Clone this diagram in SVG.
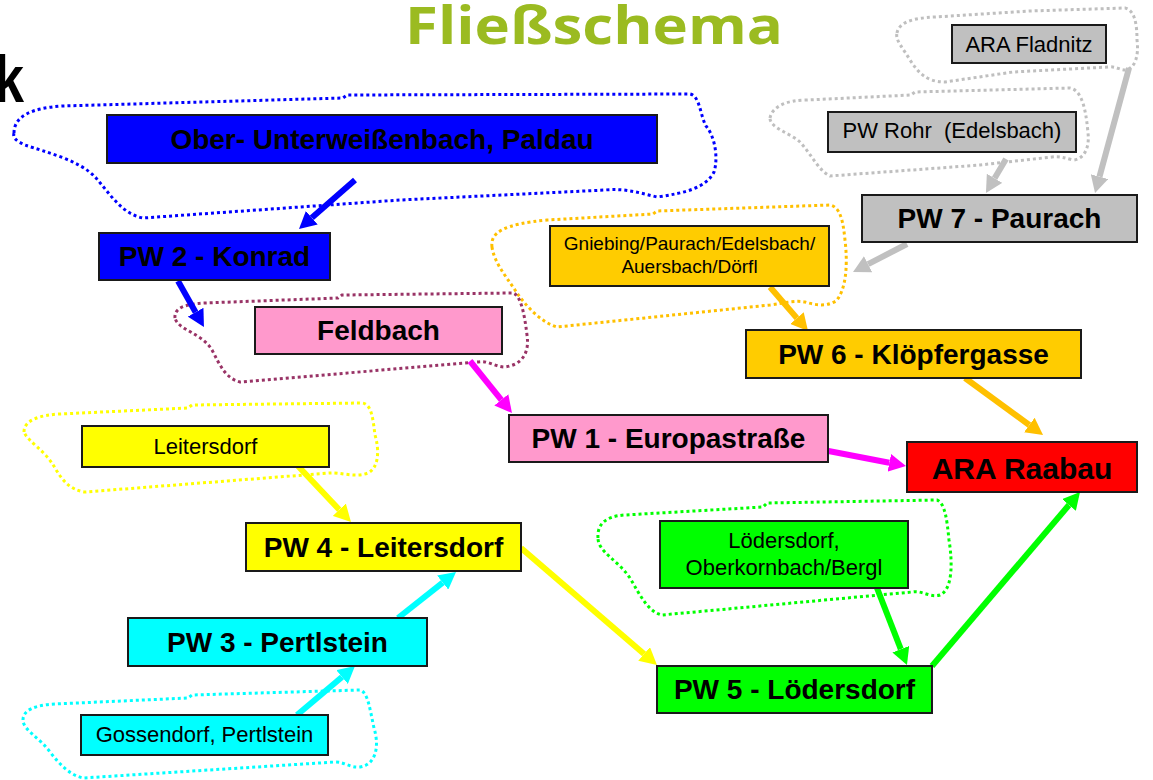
<svg xmlns="http://www.w3.org/2000/svg" width="1153" height="780" viewBox="0 0 1153 780">
<style>
.box{stroke:#1a1a1a;stroke-width:2}
.b{font-family:"Liberation Sans",Arial,sans-serif;font-weight:bold;font-size:28px;fill:#000;text-anchor:middle}
.r{font-family:"Liberation Sans",Arial,sans-serif;font-size:22px;fill:#000;text-anchor:middle}
.blob{fill:none;stroke-width:3;stroke-dasharray:3 3}
.arr{fill:none;stroke-width:6}
</style>
<defs>
<marker id="mBlue" markerUnits="userSpaceOnUse" markerWidth="17" markerHeight="18" viewBox="0 0 17 18" refX="0" refY="9" orient="auto"><path d="M0,0 L17,9 L0,18 z" fill="#0000FF"/></marker>
<marker id="mMag" markerUnits="userSpaceOnUse" markerWidth="17" markerHeight="18" viewBox="0 0 17 18" refX="0" refY="9" orient="auto"><path d="M0,0 L17,9 L0,18 z" fill="#FF00FF"/></marker>
<marker id="mGold" markerUnits="userSpaceOnUse" markerWidth="17" markerHeight="18" viewBox="0 0 17 18" refX="0" refY="9" orient="auto"><path d="M0,0 L17,9 L0,18 z" fill="#FFC000"/></marker>
<marker id="mGray" markerUnits="userSpaceOnUse" markerWidth="17" markerHeight="18" viewBox="0 0 17 18" refX="0" refY="9" orient="auto"><path d="M0,0 L17,9 L0,18 z" fill="#C0C0C0"/></marker>
<marker id="mYel" markerUnits="userSpaceOnUse" markerWidth="17" markerHeight="18" viewBox="0 0 17 18" refX="0" refY="9" orient="auto"><path d="M0,0 L17,9 L0,18 z" fill="#FFFF00"/></marker>
<marker id="mCyan" markerUnits="userSpaceOnUse" markerWidth="17" markerHeight="18" viewBox="0 0 17 18" refX="0" refY="9" orient="auto"><path d="M0,0 L17,9 L0,18 z" fill="#00FFFF"/></marker>
<marker id="mGreen" markerUnits="userSpaceOnUse" markerWidth="17" markerHeight="18" viewBox="0 0 17 18" refX="0" refY="9" orient="auto"><path d="M0,0 L17,9 L0,18 z" fill="#00FF00"/></marker>
</defs>
<rect width="1153" height="780" fill="#fff"/>

<text x="405" y="44" font-family="'Open Sans',Lato,sans-serif" font-weight="bold" font-size="52" fill="#9BBB21" textLength="378" lengthAdjust="spacingAndGlyphs">Fließschema</text>
<text x="-6" y="102" font-family="'Liberation Sans',Arial,sans-serif" font-weight="bold" font-size="66" fill="#000" textLength="30" lengthAdjust="spacingAndGlyphs">k</text>

<g id="groups">
<path class="blob" stroke="#0000FF" d="M14,133 C14,116 32,108 62,106 L343,98 L347,95 L690,94 C700,96 700,115 706,126 C716,138 718,160 714,172 C706,188 685,193 657,197 C640,193 625,188 605,190 L400,200 L143,218 C122,214 110,194 96,178 C80,160 45,152 25,145 C14,140 13,137 14,133 Z"/>
<path class="blob" stroke="#BFBFBF" d="M897,33 C899,22 913,18 935,17 L1030,11 L1125,8 C1135,10 1137,25 1137,40 C1139,56 1135,68 1126,70 C1119,70 1116,66 1108,67 L1013,72 L945,82 C926,82 918,72 910,60 C903,48 895,40 897,33 Z"/>
<path class="blob" stroke="#BFBFBF" d="M770,118 C772,107 786,100 807,100 L911,95 L915,92 L1070,88 C1082,90 1086,110 1088,133 C1090,150 1082,160 1073,160 C1065,158 1060,156 1052,157 L980,165 L830,176 C818,170 812,155 800,142 C790,133 770,128 770,118 Z"/>
<path class="blob" stroke="#FFC000" d="M492,247 C490,232 505,224 547,220 L653,214 L657,211 L830,205 C840,207 843,220 845,240 C848,265 846,290 836,301 C826,307 815,305 805,302 C795,300 785,303 770,305 L557,327 C540,322 525,305 515,290 C505,275 494,262 492,247 Z"/>
<path class="blob" stroke="#993366" d="M175,318 C174,308 185,304 205,303 L338,298 L342,295 L513,293 C520,295 524,310 527,335 C530,355 520,365 505,367 C495,367 488,360 478,362 L240,382 C225,378 220,365 212,350 C202,333 178,330 175,318 Z"/>
<path class="blob" stroke="#FFFF00" d="M24,432 C24,420 40,415 60,414 L188,408 L192,405 L362,403 C372,404 373,420 375,435 C380,452 378,468 368,473 C355,478 340,472 330,473 L85,492 C70,490 62,480 55,468 C45,450 28,442 24,432 Z"/>
<path class="blob" stroke="#00FF00" d="M598,538 C597,525 605,516 625,515 L763,507 L767,503 L937,500 C945,503 947,520 949,540 C953,565 952,590 940,595 C930,598 922,590 912,592 L662,615 C648,612 640,595 630,578 C618,560 598,552 598,538 Z"/>
<path class="blob" stroke="#00FFFF" d="M23,720 C23,710 35,705 55,704 L188,698 L192,695 L360,690 C368,692 370,710 374,728 C380,748 375,765 360,767 C350,768 345,762 335,762 L83,778 C70,775 60,765 50,752 C40,738 23,730 23,720 Z"/>
</g>

<g id="connectors">
<line class="arr" stroke="#0000FF" x1="355" y1="180" x2="311.8" y2="217.8" marker-end="url(#mBlue)"/>
<line class="arr" stroke="#0000FF" x1="178" y1="281" x2="195.6" y2="312.2" marker-end="url(#mBlue)"/>
<line class="arr" stroke="#FF00FF" x1="470" y1="361" x2="501.3" y2="399.8" marker-end="url(#mMag)"/>
<line class="arr" stroke="#FF00FF" x1="813" y1="448" x2="889.3" y2="462.8" marker-end="url(#mMag)"/>
<line class="arr" stroke="#FFC000" x1="770" y1="287" x2="796.9" y2="318.1" marker-end="url(#mGold)"/>
<line class="arr" stroke="#FFC000" x1="965" y1="378" x2="1029.3" y2="425" marker-end="url(#mGold)"/>
<line class="arr" stroke="#C0C0C0" x1="1006" y1="159" x2="994.6" y2="178.3" marker-end="url(#mGray)"/>
<line class="arr" stroke="#C0C0C0" x1="1129" y1="68" x2="1099.5" y2="176.6" marker-end="url(#mGray)"/>
<line class="arr" stroke="#C0C0C0" x1="907" y1="244" x2="868.1" y2="264.2" marker-end="url(#mGray)"/>
<line class="arr" stroke="#FFFF00" x1="298" y1="466" x2="339.3" y2="509.7" marker-end="url(#mYel)"/>
<line class="arr" stroke="#FFFF00" x1="521" y1="548" x2="644.1" y2="653.9" marker-end="url(#mYel)"/>
<line class="arr" stroke="#00FFFF" x1="398" y1="618" x2="442.7" y2="582.6" marker-end="url(#mCyan)"/>
<line class="arr" stroke="#00FFFF" x1="297" y1="715" x2="342" y2="677" marker-end="url(#mCyan)"/>
<line class="arr" stroke="#00FF00" x1="877" y1="588" x2="900.8" y2="649.2" marker-end="url(#mGreen)"/>
<line class="arr" stroke="#00FF00" x1="932" y1="666" x2="1069" y2="505" marker-end="url(#mGreen)"/>
</g>

<g id="ober"><rect class="box" x="107" y="115" width="550" height="48" fill="#0000FF"/><text class="b" x="382" y="149">Ober- Unterweißenbach, Paldau</text></g>
<g id="pw2"><rect class="box" x="99" y="233" width="231" height="47" fill="#0000FF"/><text class="b" x="214.5" y="266">PW 2 - Konrad</text></g>
<g id="feldbach"><rect class="box" x="255" y="307" width="247" height="47" fill="#FF99CC"/><text class="b" x="378.5" y="340">Feldbach</text></g>
<g id="pw1"><rect class="box" x="509" y="415" width="319" height="47" fill="#FF99CC"/><text class="b" x="668.5" y="448">PW 1 - Europastraße</text></g>
<g id="raabau"><rect class="box" x="907" y="442" width="230" height="50" fill="#FF0000"/><text class="b" x="1022" y="479" style="font-size:30px">ARA Raabau</text></g>
<g id="pw6"><rect class="box" x="746" y="330" width="335" height="48" fill="#FFCC00"/><text class="b" x="913.5" y="364">PW 6 - Klöpfergasse</text></g>
<g id="gniebing"><rect class="box" x="550" y="226" width="279" height="60" fill="#FFCC00"/><text class="r" x="689.5" y="250" style="font-size:19px">Gniebing/Paurach/Edelsbach/</text><text class="r" x="689.5" y="273" style="font-size:19px">Auersbach/Dörfl</text></g>
<g id="pw7"><rect class="box" x="862" y="195" width="275" height="47" fill="#C0C0C0"/><text class="b" x="999.5" y="228">PW 7 - Paurach</text></g>
<g id="rohr"><rect class="box" x="828" y="112" width="248" height="40" fill="#C0C0C0"/><text class="r" x="952" y="138" xml:space="preserve" style="white-space:pre">PW Rohr  (Edelsbach)</text></g>
<g id="fladnitz"><rect class="box" x="952" y="25" width="154" height="38" fill="#C0C0C0"/><text class="r" x="1029" y="52">ARA Fladnitz</text></g>
<g id="leitersdorf"><rect class="box" x="82" y="426" width="247" height="41" fill="#FFFF00"/><text class="r" x="205.5" y="454">Leitersdorf</text></g>
<g id="pw4"><rect class="box" x="246" y="523" width="275" height="48" fill="#FFFF00"/><text class="b" x="383.5" y="557">PW 4 - Leitersdorf</text></g>
<g id="pw3"><rect class="box" x="128" y="618" width="299" height="48" fill="#00FFFF"/><text class="b" x="277.5" y="652">PW 3 - Pertlstein</text></g>
<g id="gossendorf"><rect class="box" x="81" y="715" width="247" height="40" fill="#00FFFF"/><text class="r" x="204.5" y="742">Gossendorf, Pertlstein</text></g>
<g id="loedersdorf"><rect class="box" x="660" y="521" width="248" height="67" fill="#00FF00"/><text class="r" x="784" y="548">Lödersdorf,</text><text class="r" x="784" y="575">Oberkornbach/Bergl</text></g>
<g id="pw5"><rect class="box" x="657" y="666" width="275" height="47" fill="#00FF00"/><text class="b" x="794.5" y="699">PW 5 - Lödersdorf</text></g>
</svg>
